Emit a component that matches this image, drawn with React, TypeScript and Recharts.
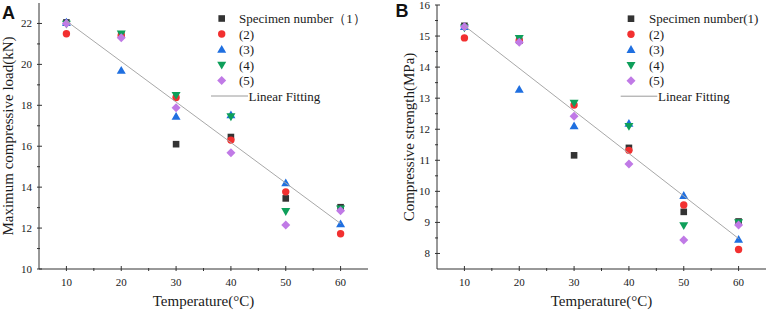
import React from 'react';
import { ScatterChart, Scatter, XAxis, YAxis, Legend, Label } from 'recharts';

// ---------- data ----------
const temperatures = [10, 20, 30, 40, 50, 60];

const loadSpecimen1 = [22.05, 21.45, 16.1, 16.45, 13.45, 13.02];
const loadSpecimen2 = [21.5, 21.4, 18.38, 16.3, 13.77, 11.72];
const loadSpecimen3 = [22.05, 19.7, 17.45, 17.52, 14.2, 12.2];
const loadSpecimen4 = [21.98, 21.5, 18.5, 17.45, 12.82, 12.95];
const loadSpecimen5 = [22.0, 21.3, 17.88, 15.68, 12.15, 12.85];
const fitTemperatures = [10, 60];
const loadFit = [22.12, 12.22];

const strengthSpecimen1 = [15.33, 14.85, 11.16, 11.4, 9.34, 9.03];
const strengthSpecimen2 = [14.94, 14.85, 12.78, 11.32, 9.56, 8.13];
const strengthSpecimen3 = [15.3, 13.28, 12.1, 12.18, 9.86, 8.45];
const strengthSpecimen4 = [15.27, 14.93, 12.85, 12.1, 8.9, 9.0];
const strengthSpecimen5 = [15.3, 14.8, 12.42, 10.88, 8.43, 8.92];
const strengthFit = [15.33, 8.48];

const xTicks = [10, 15, 20, 25, 30, 35, 40, 45, 50, 55, 60];
const loadTicks = [10, 11, 12, 13, 14, 15, 16, 17, 18, 19, 20, 21, 22];
const strengthTicks = [8, 8.5, 9, 9.5, 10, 10.5, 11, 11.5, 12, 12.5, 13, 13.5, 14, 14.5, 15, 15.5, 16];

const loadNames = ['Specimen number（1）', '(2)', '(3)', '(4)', '(5)'];
const strengthNames = ['Specimen number(1)', '(2)', '(3)', '(4)', '(5)'];
const fitName = 'Linear Fitting';

// ---------- style ----------
const COLORS = ['#333333', '#F23030', '#1F6FE0', '#0E9F5A', '#C07AE6'];
const KINDS = ['square', 'circle', 'triangle', 'down', 'diamond'];
const AXIS = '#333';
const TEXT = '#1a1a1a';
const SERIF = '"Liberation Serif", "Times New Roman", serif';

function marker(kind: string, color: string, cx: number, cy: number) {
  switch (kind) {
    case 'square':
      return <rect x={cx - 3.3} y={cy - 3.3} width={6.6} height={6.6} fill={color} />;
    case 'circle':
      return <circle cx={cx} cy={cy} r={3.7} fill={color} />;
    case 'triangle':
      return <polygon points={`${cx},${cy - 4.6} ${cx - 4.5},${cy + 3.2} ${cx + 4.5},${cy + 3.2}`} fill={color} />;
    case 'down':
      return <polygon points={`${cx},${cy + 4.6} ${cx - 4.5},${cy - 3.2} ${cx + 4.5},${cy - 3.2}`} fill={color} />;
    default:
      return <polygon points={`${cx},${cy - 4.5} ${cx + 4.5},${cy} ${cx},${cy + 4.5} ${cx - 4.5},${cy}`} fill={color} />;
  }
}

const toPoints = (xs: number[], ys: number[]) => xs.map((x, i) => ({ x, y: ys[i] }));

type LegendCfg = { iconX: number; textX: number; lineX1: number; lineX2: number; lineTextX: number; rowY0: number; rowStep: number };

function Panel(props: {
  series: number[][];
  fit: number[];
  names: string[];
  yDomain: [number, number];
  yTicks: number[];
  isMajorY: (v: number) => boolean;
  yTitle: string;
  yTitleX: number;
  margin: { top: number; right: number; left: number; bottom: number };
  yWidth: number;
  legend: LegendCfg;
}) {
  const { series, fit, names, yDomain, yTicks, isMajorY, yTitle, yTitleX, margin, yWidth, legend } = props;

  const renderXTick = (p: any) => {
    const { x, y, payload } = p;
    const major = payload.value % 10 === 0;
    return (
      <g>
        <line x1={x} x2={x} y1={y} y2={y - (major ? 5 : 3)} stroke={AXIS} strokeWidth={1} />
        {major && (
          <text x={x} y={y + 11} textAnchor="middle" dominantBaseline="central" fontFamily={SERIF} fontSize={11} fill={TEXT}>
            {payload.value}
          </text>
        )}
      </g>
    );
  };

  const renderYTick = (p: any) => {
    const { x, y, payload } = p;
    const major = isMajorY(payload.value);
    return (
      <g>
        <line x1={x} x2={x + (major ? 5 : 3)} y1={y} y2={y} stroke={AXIS} strokeWidth={1} />
        {major && (
          <text x={x - 5} y={y} textAnchor="end" dominantBaseline="central" fontFamily={SERIF} fontSize={11} fill={TEXT}>
            {payload.value}
          </text>
        )}
      </g>
    );
  };

  const renderLegend = () => {
    const fitY = legend.rowY0 + names.length * legend.rowStep;
    return (
      <svg width={384} height={312} style={{ position: 'absolute', left: 0, top: 0 }}>
        {names.map((n, i) => {
          const cy = legend.rowY0 + i * legend.rowStep;
          return (
            <g key={n + i}>
              {marker(KINDS[i], COLORS[i], legend.iconX, cy)}
              <text x={legend.textX} y={cy} dominantBaseline="central" fontFamily={SERIF} fontSize={13} fill={TEXT}>
                {n}
              </text>
            </g>
          );
        })}
        <line x1={legend.lineX1} x2={legend.lineX2} y1={fitY} y2={fitY} stroke="#9a9a9a" strokeWidth={1} />
        <text x={legend.lineTextX} y={fitY} dominantBaseline="central" fontFamily={SERIF} fontSize={13} fill={TEXT}>
          {fitName}
        </text>
      </svg>
    );
  };

  return (
    <ScatterChart width={384} height={312} margin={margin}>
      <XAxis
        dataKey="x"
        type="number"
        domain={[5, 65]}
        ticks={xTicks}
        interval={0}
        tickSize={0}
        tickLine={false}
        axisLine={{ stroke: AXIS, strokeWidth: 1 }}
        tick={renderXTick}
        height={43}
        allowDataOverflow
      >
        <Label
          content={(lp: any) => {
            const vb = lp.viewBox || { x: 0, y: 269, width: 330, height: 43 };
            return (
              <text x={vb.x + vb.width / 2} y={vb.y + 37} textAnchor="middle" fontFamily={SERIF} fontSize={15} fill={TEXT}>
                Temperature(°C)
              </text>
            );
          }}
        />
      </XAxis>
      <XAxis xAxisId="top" orientation="top" type="number" domain={[5, 65]} height={0} tick={false} tickLine={false} axisLine={{ stroke: AXIS, strokeWidth: 1 }} allowDataOverflow />
      <YAxis
        dataKey="y"
        type="number"
        domain={yDomain}
        ticks={yTicks}
        interval={0}
        tickSize={0}
        tickLine={false}
        axisLine={{ stroke: AXIS, strokeWidth: 1 }}
        tick={renderYTick}
        width={yWidth}
        allowDataOverflow
      >
        <Label
          content={(lp: any) => {
            const vb = lp.viewBox || { x: 0, y: 5, width: yWidth, height: 264 };
            const cy = vb.y + vb.height / 2;
            const x = vb.x + yTitleX;
            return (
              <text x={x} y={cy} transform={`rotate(-90 ${x} ${cy})`} textAnchor="middle" fontFamily={SERIF} fontSize={15} fill={TEXT}>
                {yTitle}
              </text>
            );
          }}
        />
      </YAxis>
      <YAxis yAxisId="right" orientation="right" type="number" domain={yDomain} width={0} tick={false} tickLine={false} axisLine={{ stroke: AXIS, strokeWidth: 1 }} allowDataOverflow />
      {series.map((ys, i) => (
        <Scatter
          key={i}
          name={names[i]}
          data={toPoints(temperatures, ys)}
          fill={COLORS[i]}
          isAnimationActive={false}
          shape={(sp: any) => marker(KINDS[i], COLORS[i], sp.cx, sp.cy)}
        />
      ))}
      <Scatter
        name={fitName}
        data={toPoints(fitTemperatures, fit)}
        line={{ stroke: '#a8a8a8', strokeWidth: 1 }}
        shape={() => <g />}
        isAnimationActive={false}
      />
      <Legend
        layout="vertical"
        align="center"
        verticalAlign="middle"
        wrapperStyle={{ left: 0, top: 0, width: 384, height: 312, pointerEvents: 'none' }}
        content={renderLegend}
      />
    </ScatterChart>
  );
}

export default function App() {
  return (
    <div style={{ position: 'absolute', left: 0, top: 0, width: 768, height: 312, background: '#fff', overflow: 'hidden' }}>
      <div style={{ position: 'absolute', left: 0, top: 0 }}>
        <Panel
          series={[loadSpecimen1, loadSpecimen2, loadSpecimen3, loadSpecimen4, loadSpecimen5]}
          fit={loadFit}
          names={loadNames}
          yDomain={[10, 23]}
          yTicks={loadTicks}
          isMajorY={(v) => v % 2 === 0}
          yTitle="Maximum compressive load(kN)"
          yTitleX={13.3}
          margin={{ top: 3, right: 16, left: 0, bottom: 0 }}
          yWidth={39}
          legend={{ iconX: 221.7, textX: 239, lineX1: 211, lineX2: 248, lineTextX: 248.5, rowY0: 18.5, rowStep: 15.5 }}
        />
      </div>
      <div style={{ position: 'absolute', left: 384, top: 0 }}>
        <Panel
          series={[strengthSpecimen1, strengthSpecimen2, strengthSpecimen3, strengthSpecimen4, strengthSpecimen5]}
          fit={strengthFit}
          names={strengthNames}
          yDomain={[7.5, 16]}
          yTicks={strengthTicks}
          isMajorY={(v) => Number.isInteger(v)}
          yTitle="Compressive strength(MPa)"
          yTitleX={30}
          margin={{ top: 5, right: 2, left: 0, bottom: 0 }}
          yWidth={53}
          legend={{ iconX: 247, textX: 265, lineX1: 236.7, lineX2: 273.3, lineTextX: 274, rowY0: 18.7, rowStep: 15.5 }}
        />
      </div>
      <svg style={{ position: 'absolute', left: 0, top: 0, pointerEvents: 'none' }} width={768} height={312}>
        <text x={2} y={19.3} fontFamily='"Liberation Sans", Arial, sans-serif' fontWeight="bold" fontSize={18} fill="#111">A</text>
        <text x={395.5} y={16.8} fontFamily='"Liberation Sans", Arial, sans-serif' fontWeight="bold" fontSize={18} fill="#111">B</text>
      </svg>
    </div>
  );
}
